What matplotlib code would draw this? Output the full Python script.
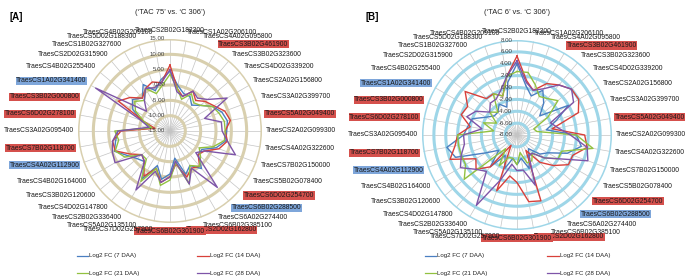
import numpy as np
import matplotlib
matplotlib.use("Agg")
import matplotlib.pyplot as plt

plt.rcParams['font.family'] = ['Liberation Sans', 'DejaVu Sans']

genes = ["TraesCS2B02G182300", "TraesCS1A02G206100", "TraesCS4A02G095800", "TraesCS3B02G461900",
         "TraesCS3B02G323600", "TraesCS4D02G339200", "TraesCS2A02G156800", "TraesCS3A02G399700",
         "TraesCS5A02G049400", "TraesCS2A02G099300", "TraesCS4A02G322600", "TraesCS7B02G150000",
         "TraesCS5B02G078400", "TraesCS6D02G254700", "TraesCS6B02G288500", "TraesCS6A02G274400",
         "TraesCS6B02G385100", "TraesCS2D02G162800", "TraesCS6B02G301900", "TraesCS7D02G257900",
         "TraesCS5A02G135100", "TraesCS2B02G336400", "TraesCS4D02G147800", "TraesCS3B02G120600",
         "TraesCS4B02G164000", "TraesCS4A02G112900", "TraesCS7B02G118700", "TraesCS3A02G095400",
         "TraesCS6D02G278100", "TraesCS3B02G000800", "TraesCS1A02G341400", "TraesCS4B02G255400",
         "TraesCS2D02G315900", "TraesCS1B02G327600", "TraesCS5D02G188300", "TraesCS4B02G209100"]
red_hl = ["TraesCS3B02G461900", "TraesCS5A02G049400", "TraesCS6D02G254700", "TraesCS2D02G162800",
          "TraesCS6B02G301900", "TraesCS7B02G118700", "TraesCS6D02G278100", "TraesCS3B02G000800"]
blue_hl = ["TraesCS6B02G288500", "TraesCS4A02G112900", "TraesCS1A02G341400"]

series_names = ["Log2 FC (7 DAA)", "Log2 FC (14 DAA)", "Log2 FC (21 DAA)", "Log2 FC (28 DAA)"]
series_colors = ["#4a7fc1", "#d8403a", "#92c140", "#7e55a8"]

# Panel A ('TAC 75' vs 'C 306')
a_7 = [4.5, 0, -2, -2, -4, -2, 1, 3, 4, 3.5, 3.5, 1, -3, -3, 1, -2, 0, -6, -1, 1, -3, 3, -2, -1, 1, 4.3, 3, 2, -9, -5, -1, 1, -1, 2.5, -1, 2]
a_14 = [6.5, -1, -3, 0, -2, 0, 1.5, 4, 5, 3, 4, 2, -2, -3, 0, -1, 1, -4, -0.1, 2, -2, 2, -2, -3, 0, 4, 4, 1, -10, -6, 4.5, 2, -1, 1, 2, 1]
a_21 = [3.5, -1, -4, -1, -3, -2, 1, 2, 3, 3, 3, 0, -4, -2, 0, -2, 3.4, -4.5, 1, 3, -2, 4, -3, -3, 2, 4, 2, 3, -9, -6, -2, 0, -2, 1, -2, 0]
a_28 = [5, -2, -3, 0, -1, 1, 6.5, -3, 2, 2, 4, 7.7, -2, -4, 9, -1, 3.4, -5, 0, 2, -1, 7.2, -2, -3, 5.7, 5, 4, 2, -8, -5, 13, -5, -2, 1, 0, 1]
a_ticks = [-15, -10, -5, 0, 5, 10, 15]

# Panel B ('TAC 6' vs 'C 306')
b_7 = [4, 0.5, -1, 0.7, -1, -3, 2, -1, -3, 2, 3, 1, -2, -3, -5, -4, -2, -4, -3, -4, -2, -4, -1, -4, -2, 3, 4, 1, 0.4, 0, -2, -3, -3, -2, -3, 1]
b_14 = [5.3, 1.3, 0, 2, 3, 4, 4, 3, -2, 3.4, 4, 2, 2, 0, -2, -5, 3.8, 3.4, 0, -1, 2, -6, -1, 1, 0, 4, 2.6, 2, 0, 2, 1.6, 3.4, 0, 0, -1, 2]
b_21 = [2.7, 2.7, 1, -0.5, 0, 1, -2, -5, -4.6, 2, 5, 0, 0, -2, -4, -3, -3, -5, -3, -4, -4, -2, -5, 3.6, 2, 2, 2, 2, -4, -2, -4, -2, -3, 0, -1, 2]
b_28 = [4.5, 1, 0, 1, 3, 4, 3, -2, -1, 1, 4, 4.7, 0, -2, -4, -4, 1, -2, -2, -3, 0, 5.7, 0, 1, 3, 2, 1, 1, -2, 1, 0, -2, -1, -1, 0, 2]
b_ticks = [-8, -6, -4, -2, 0, 2, 4, 6, 8]

fig = plt.figure(figsize=(6.85, 2.77), dpi=100)
W, H = 685.0, 277.0


def radar(cx, cy, rad, data, ticks, ring_color, title, tag, tag_x):
    ax = fig.add_axes([(cx - rad) / W, (H - cy - rad) / H, 2 * rad / W, 2 * rad / H],
                      projection='polar')
    ax.set_theta_zero_location('N')
    ax.set_theta_direction(-1)
    lo, hi = ticks[0], ticks[-1]
    ax.set_ylim(lo, hi)
    ax.grid(False)
    ax.set_xticks([])
    ax.set_yticks([])
    ax.spines['polar'].set_visible(False)
    ax.patch.set_alpha(0)
    n = len(genes)
    th = np.linspace(0, 2 * np.pi, n, endpoint=False)
    full = np.linspace(0, 2 * np.pi, 361)
    for t in th:
        ax.plot([t, t], [lo, hi], color='#c4c4c4', lw=0.5, zorder=1)
    for v in ticks[1:]:
        ax.plot(full, [v] * len(full), color=ring_color, lw=2.2, zorder=1, solid_capstyle='butt')
    for vals, col in zip(data, series_colors):
        vv = list(vals) + [vals[0]]
        tt = list(th) + [th[0]]
        ax.plot(tt, vv, color=col, lw=1.0, zorder=3)
    for v in ticks:
        ax.annotate(f"{v:.2f}", xy=(0, v), xytext=(-3.5, 0), textcoords='offset points',
                    ha='right', va='center', fontsize=4.4, color='#404040', zorder=4)
    pad = 3.0
    for t, g in zip(th, genes):
        s, c = np.sin(t), np.cos(t)
        ha = 'left' if s > 0.02 else ('right' if s < -0.02 else 'center')
        dx = pad * s
        dy = pad * c + 3.0 * c
        kw = {}
        if g in red_hl:
            kw['bbox'] = dict(facecolor='#d5504c', edgecolor='none', pad=0.4)
        elif g in blue_hl:
            kw['bbox'] = dict(facecolor='#7ea6da', edgecolor='none', pad=0.4)
        ax.annotate(g, xy=(t, hi), xytext=(dx, dy), textcoords='offset points',
                    ha=ha, va='center', fontsize=4.9, color='#1a1a1a', annotation_clip=False, **kw)
    fig.text(cx / W, 1 - 13 / H, title, ha='center', va='center', fontsize=5.4, color='#222222')
    fig.text(tag_x / W, 1 - 17 / H, tag, ha='left', va='center', fontsize=7.0, fontweight='bold')
    return ax


radar(170, 131, 92, [a_7, a_14, a_21, a_28], a_ticks, '#d8cfae', "(\u2018TAC 75\u2019 vs. \u2018C 306\u2019)", "[A]", 10)
radar(517, 135, 95, [b_7, b_14, b_21, b_28], b_ticks, '#9ed6e8', "(\u2018TAC 6\u2019 vs. \u2018C 306\u2019)", "[B]", 366)


def legend(x_cols, rows_y):
    k = 0
    for yy in rows_y:
        for (x0, x1) in x_cols:
            yf = 1 - yy / H
            fig.add_artist(plt.Line2D([x0 / W, x1 / W], [yf, yf], color=series_colors[k], lw=0.9,
                                      transform=fig.transFigure))
            fig.text((x1 + 1) / W, yf, series_names[k], ha='left', va='center', fontsize=4.4, color='#222222')
            k += 1


legend([(77, 88), (197, 209)], [256, 273])
legend([(425, 436), (547, 559)], [256, 273])

fig.savefig("out.png", dpi=100, facecolor='white')
